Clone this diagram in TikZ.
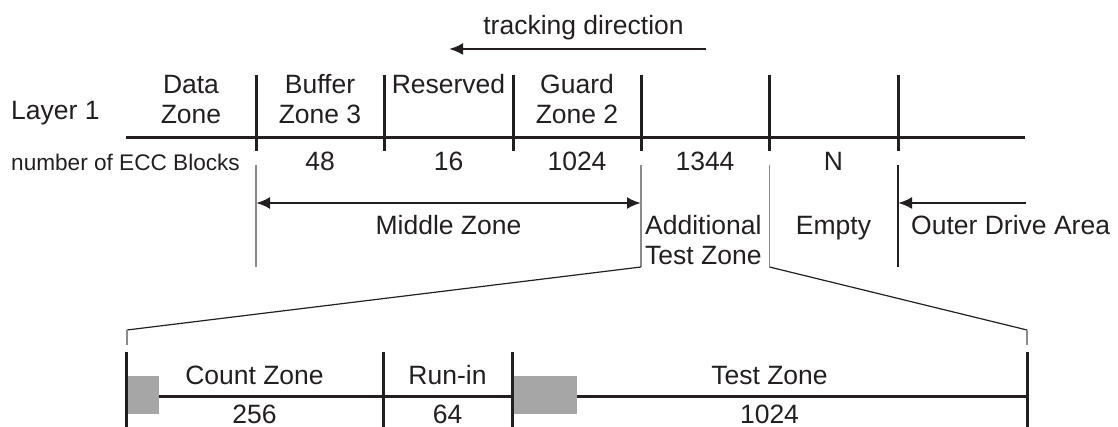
\documentclass[tikz,border=0pt]{standalone}
\usepackage{fontspec}
\setmainfont{Liberation Sans}
\usetikzlibrary{arrows.meta}
\definecolor{ink}{HTML}{231F20}
\definecolor{blockgray}{HTML}{A6A6A6}
\definecolor{thingray}{HTML}{8A8A8A}
\tikzset{
  lbl/.style={inner sep=0pt, anchor=base, text=ink, font=\fontsize{26.5}{29.5}\selectfont, align=center},
  smalllbl/.style={inner sep=0pt, anchor=base, text=ink, font=\fontsize{22.6}{26}\selectfont},
  heavy/.style={draw=ink, line width=3pt},
  thinblack/.style={draw=ink, line width=1.2pt},
  thingrey/.style={draw=thingray, line width=1.2pt},
  arrowline/.style={draw=ink, line width=2.5pt},
  tip/.style={-{Latex[length=14pt,width=12pt]}},
  dtip/.style={{Latex[length=14pt,width=12pt]}-{Latex[length=14pt,width=12pt]}},
  graybox/.style={fill=blockgray, draw=none}
}
\begin{document}
\begin{tikzpicture}[x=1pt,y=-1pt]
\useasboundingbox (0,0) rectangle (1118,427);

% tracking direction
\node[lbl] (track) at (583.5,35) {tracking direction};
\coordinate (trA) at (706,49);
\coordinate (trB) at (449,49);
\draw[arrowline,tip] (trA) -- (trB);

% Layer 1 row
\node[lbl, anchor=base west] (layer) at (11,120) {Layer 1};
\coordinate (mlL) at (126,138);
\coordinate (mlR) at (1025,138);
\draw[heavy] (mlL) -- (mlR);
\foreach \n/\x in {d1/256,d2/384.5,d3/513,d4/641,d5/769.5,d6/898}{
  \coordinate (\n t) at (\x,75);
  \coordinate (\n b) at (\x,151);
  \draw[heavy] (\n t) -- (\n b);
}
% two-line labels: base anchor = baseline of the last line
\node[lbl] (data) at (191,123.5) {Data\\Zone};
\node[lbl] (buf) at (320,123.5) {Buffer\\Zone 3};
\node[lbl] (res) at (448.5,94) {Reserved};
\node[lbl] (guard) at (577,123.5) {Guard\\Zone 2};

% numbers
\node[smalllbl, anchor=base west] (ecc) at (11,171) {number of ECC Blocks};
\node[lbl] (n48) at (320,171) {48};
\node[lbl] (n16) at (448.5,171) {16};
\node[lbl] (n1024) at (577,171) {1024};
\node[lbl] (n1344) at (705,171) {1344};
\node[lbl] (nN) at (833.5,171) {N};

% lower thin lines
\coordinate (v1t) at (256,165);   \coordinate (v1b) at (256,267);
\coordinate (v2t) at (641,165);   \coordinate (v2b) at (641,267);
\coordinate (v3t) at (769.5,165); \coordinate (v3b) at (769.5,267);
\coordinate (v4t) at (898,165);   \coordinate (v4b) at (898,267);
\draw[thingrey] (v1t) -- (v1b);
\draw[thingrey] (v2t) -- (v2b);
\draw[thingrey] (v3t) -- (v3b);
\draw[thinblack] (v4t) -- (v4b);

% arrows
\coordinate (mzL) at (256,203);
\coordinate (mzR) at (641,203);
\draw[arrowline,dtip] (mzL) -- (mzR);
\node[lbl] (middle) at (448.5,235) {Middle Zone};
\coordinate (odR) at (1026,203);
\coordinate (odL) at (898,203);
\draw[arrowline,tip] (odR) -- (odL);
\node[lbl, anchor=base west] (addl) at (645,235) {Additional};
\node[lbl, anchor=base west] (addl2) at (645,265) {Test Zone};
\node[lbl] (empty) at (833.5,235) {Empty};
\node[lbl, anchor=base west] (outer) at (911,235) {Outer Drive Area};

% zoom lines
\coordinate (zl) at (127,330);
\coordinate (zlb) at (127,345);
\coordinate (zr) at (1027,330);
\coordinate (zrb) at (1027,345);
\draw[thinblack] (v2b) -- (zl);
\draw[thinblack] (v3b) -- (zr);
\draw[thingrey] (zl) -- (zlb);
\draw[thingrey] (zr) -- (zrb);

% bottom bar
\coordinate (blL) at (126,396);
\coordinate (blR) at (1027,396);
\draw[heavy] (blL) -- (blR);
\fill[graybox] (127.5,376) rectangle (159,414);
\fill[graybox] (513.5,376) rectangle (577,414);
\foreach \n/\x in {b1/126,b2/383,b3/512,b4/1027}{
  \coordinate (\n t) at (\x,352);
  \coordinate (\n b) at (\x,430);
  \draw[heavy] (\n t) -- (\n b);
}
\node[lbl] (count) at (254.5,384) {Count Zone};
\node[lbl] (runin) at (447.5,384) {Run-in};
\node[lbl] (testz) at (769.5,384) {Test Zone};
\node[lbl] (c256) at (254.5,423.5) {256};
\node[lbl] (c64) at (447.5,423.5) {64};
\node[lbl] (c1024) at (769.5,423.5) {1024};
\end{tikzpicture}
\end{document}
